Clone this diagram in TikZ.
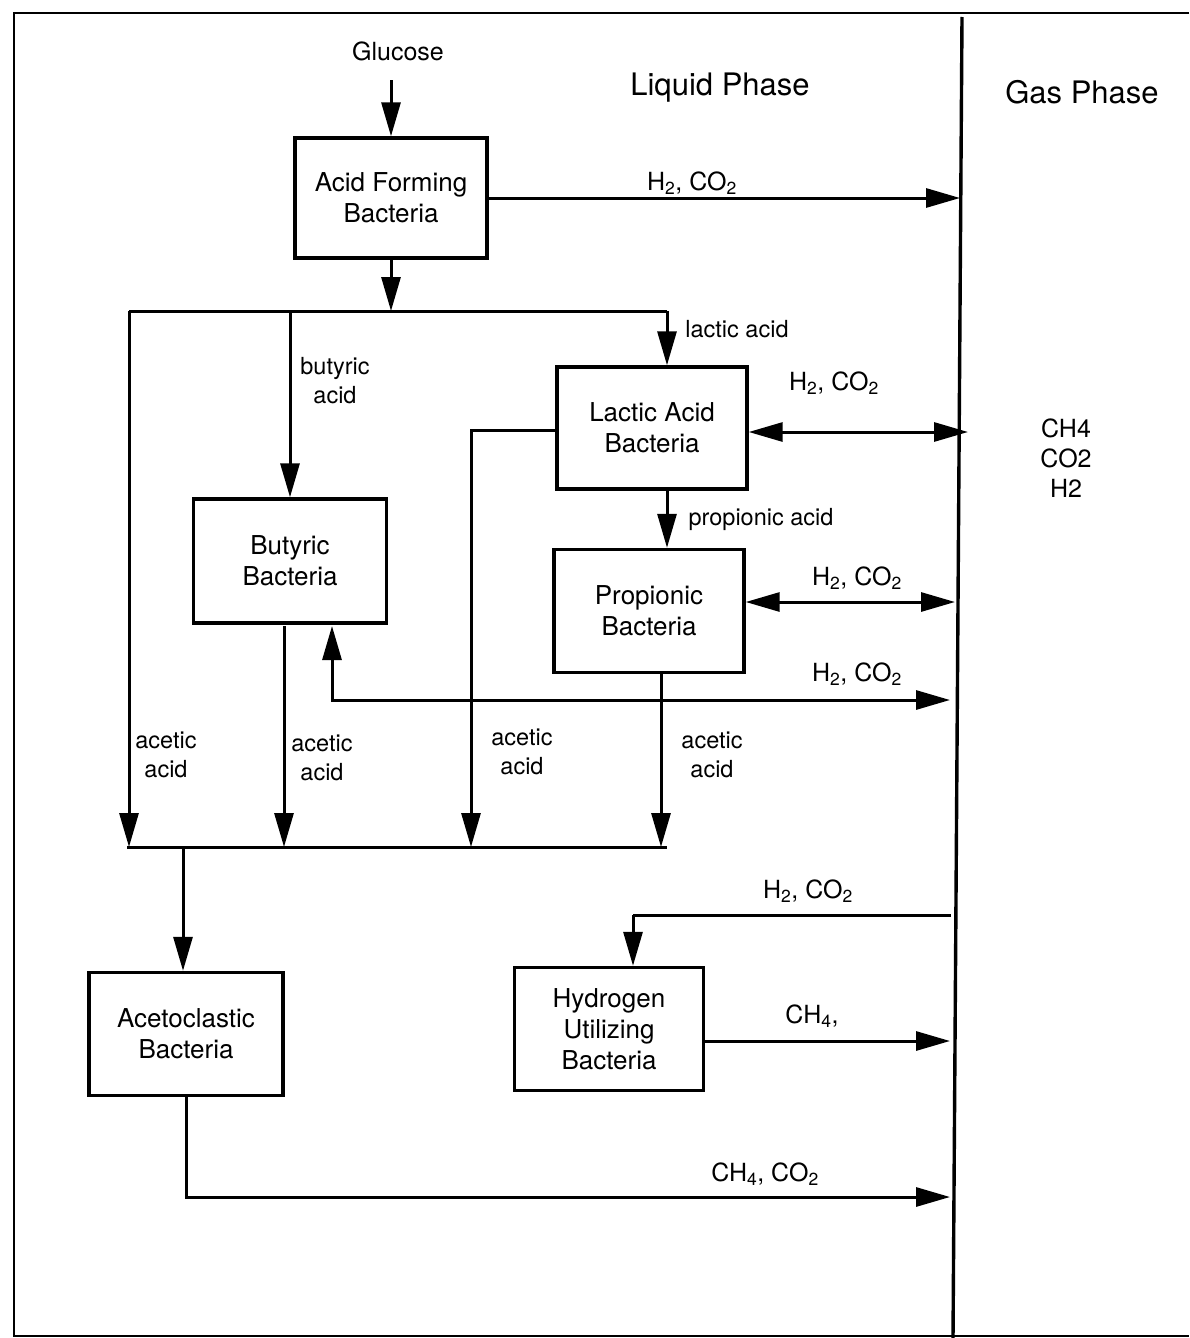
\documentclass[tikz,border=0pt]{standalone}
\usepackage{fontspec}
\setmainfont{TeX Gyre Heros}
\usetikzlibrary{arrows.meta}
\begin{document}
\begin{tikzpicture}[x=1pt,y=-1pt,
  box/.style={draw,line width=3.4pt,inner sep=0pt,align=center,font=\fontsize{26}{31}\selectfont},
  lbl/.style={inner sep=0pt,align=center,font=\fontsize{23.5}{29}\selectfont},
  gas/.style={inner sep=0pt,align=center,font=\fontsize{25}{30}\selectfont},
  title/.style={inner sep=0pt,font=\fontsize{31}{36}\selectfont},
  conn/.style={line width=3pt},
  arr/.style={conn,-{Triangle[length=34pt,width=19pt]}},
  darr/.style={conn,{Triangle[length=34pt,width=19pt]}-{Triangle[length=34pt,width=19pt]}},
  frame/.style={line width=2.8pt}]
\useasboundingbox (0,0) rectangle (1189,1338);
\fill[white] (0,0) rectangle (1189,1338);
% frame and divider
\draw[frame] (1189,13) -- (14,13) -- (14,1336) -- (1189,1336);
\coordinate (dt) at (962,17);
\coordinate (db) at (953,1338);
\draw[line width=3.4pt] (dt) -- (db);
% titles
\node[title] (liq) at (720,88) {Liquid Phase};
\node[title] (gasph) at (1082,92) {Gas Phase};
\node[gas] (gases) at (1066,458) {CH4\\CO2\\H2};
% boxes
\node[box,minimum width=192pt,minimum height=120pt] (acid) at (391,198) {Acid Forming\\Bacteria};
\node[box,minimum width=190pt,minimum height=122pt] (lactic) at (652,428) {Lactic Acid\\Bacteria};
\node[box,minimum width=190pt,minimum height=123pt] (prop) at (649,611) {Propionic\\Bacteria};
\node[box,minimum width=193pt,minimum height=124pt] (buty) at (290,561) {Butyric\\Bacteria};
\node[box,minimum width=194pt,minimum height=123pt] (aceto) at (186,1034) {Acetoclastic\\Bacteria};
\node[box,minimum width=189pt,minimum height=123pt] (hydro) at (609,1029) {Hydrogen\\Utilizing\\Bacteria};
% glucose
\node[lbl,font=\fontsize{25}{30}\selectfont] (glu) at (398,51) {Glucose};
\coordinate (gtop) at (391,80);
\draw[arr] (gtop) -- (acid.north);
% acid forming outputs
\coordinate (g1) at (960,198);
\draw[arr] (acid.east) -- (g1);
\node[gas] (l1) at (692,183) {H\textsubscript{2}, CO\textsubscript{2}};
\coordinate (j0) at (391,311);
\draw[arr] (acid.south) -- (j0);
\coordinate (jl) at (129,311);
\coordinate (jr) at (667,311);
\draw[conn] (jl) -- (jr);
% collector line
\coordinate (cl) at (127,847);
\coordinate (cr) at (667,847);
\draw[conn] (cl) -- (cr);
\coordinate (bl) at (129,847);
\draw[arr] (jl) -- (bl);
% butyric
\draw[arr] (buty.north |- jl) -- (buty.north);
\node[lbl] (l2) at (335,381) {butyric\\acid};
\coordinate (bb) at (284,847);
\draw[arr] (284,626) -- (bb);
% lactic
\draw[arr] (jr) -- (jr |- lactic.north);
\node[lbl] (l3) at (737,329) {lactic acid};
\coordinate (g2) at (968,432);
\draw[darr] (lactic.east |- g2) -- (g2);
\node[gas] (l4) at (834,383) {H\textsubscript{2}, CO\textsubscript{2}};
\coordinate (lb) at (471,847);
\draw[arr] (lactic.west |- 0,430) -| (lb);
\draw[arr] (lactic.south -| jr) -- (prop.north -| jr);
\node[lbl] (l5) at (761,519) {propionic acid};
% propionic
\coordinate (g3) at (955,602);
\draw[darr] (prop.east |- g3) -- (g3);
\node[gas] (l6) at (857,578) {H\textsubscript{2}, CO\textsubscript{2}};
\coordinate (pb) at (661,847);
\draw[arr] (prop.south -| pb) -- (pb);
% H2 line back to butyric
\coordinate (bt) at (332,626);
\coordinate (g4) at (950,700);
\draw[darr] (bt) |- (g4);
\node[gas] (l7) at (857,674) {H\textsubscript{2}, CO\textsubscript{2}};
% acetic acid labels
\node[lbl] (a1) at (166,755) {acetic\\acid};
\node[lbl] (a2) at (322,758) {acetic\\acid};
\node[lbl] (a3) at (522,752) {acetic\\acid};
\node[lbl] (a4) at (712,755) {acetic\\acid};
% acetoclastic
\coordinate (ca) at (183,847);
\draw[arr] (ca) -- (aceto.north -| ca);
\coordinate (g6) at (950,1197);
\draw[arr] (aceto.south) |- (g6);
\node[gas] (l8) at (765,1174) {CH\textsubscript{4}, CO\textsubscript{2}};
% hydrogen utilizing
\coordinate (g5) at (951,915);
\coordinate (hj) at (633,915);
\draw[conn] (g5) -- (hj);
\draw[arr] (hj) -- (hj |- hydro.north);
\node[gas] (l9) at (808,891) {H\textsubscript{2}, CO\textsubscript{2}};
\coordinate (g7) at (950,1041);
\draw[arr] (hydro.east |- g7) -- (g7);
\node[gas] (l10) at (812,1016) {CH\textsubscript{4},};
\end{tikzpicture}
\end{document}
